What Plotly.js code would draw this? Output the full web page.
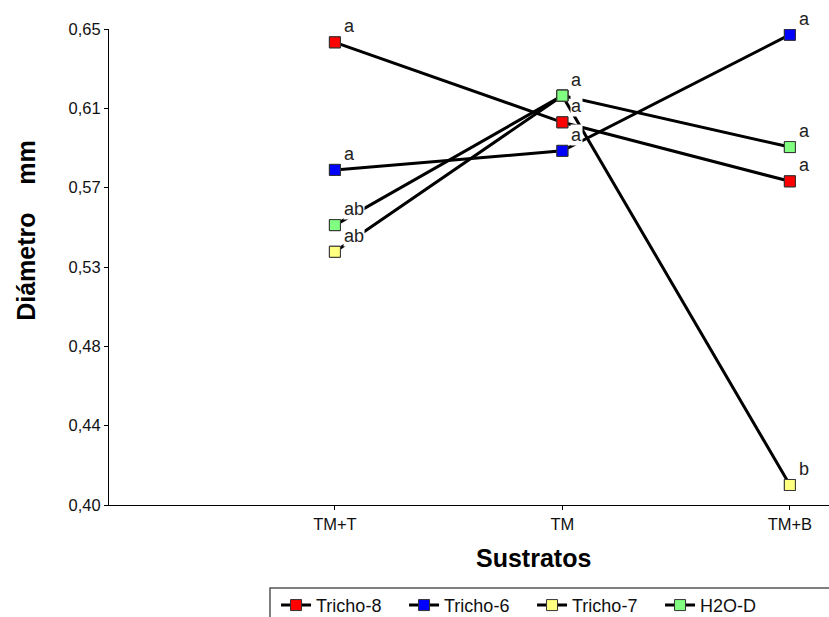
<!DOCTYPE html>
<html>
<head>
<meta charset="utf-8">
<script src="https://cdn.plot.ly/plotly-3.0.1.min.js"></script>
<style>html,body{margin:0;padding:0;background:#fff}#chart{width:829px;height:617px}</style>
</head>
<body>
<div id="chart"></div>
<script>
var categories = ["TM+T", "TM", "TM+B"];
var tricho8 = [0.643, 0.601, 0.570];
var tricho6 = [0.576, 0.586, 0.647];
var tricho7 = [0.533, 0.615, 0.4105];
var h2od = [0.547, 0.615, 0.588];
var letters8 = ["a", "a", "a"];
var letters6 = ["a", "a", "a"];
var letters7 = ["ab", "", "b"];
var lettersH = ["ab", "a", "a"];
var yTickVals = [0.40, 0.441667, 0.483333, 0.525, 0.566667, 0.608333, 0.65];
var yTickText = ["0,40", "0,44", "0,48", "0,53", "0,57", "0,61", "0,65"];

var series = [
  {name: "Tricho-8", y: tricho8, color: "#ff0000", letters: letters8},
  {name: "Tricho-6", y: tricho6, color: "#0000ff", letters: letters6},
  {name: "Tricho-7", y: tricho7, color: "#ffff80", letters: letters7},
  {name: "H2O-D", y: h2od, color: "#80ff80", letters: lettersH}
];

var font = "Liberation Sans, Arial, sans-serif";
var traces = [];
series.forEach(function (s) {
  traces.push({
    x: categories, y: s.y, name: s.name, type: "scatter", mode: "lines+markers",
    line: {color: "#000", width: 3},
    marker: {symbol: "square", size: 11, color: s.color, line: {color: "#333", width: 1}}
  });
});
series.forEach(function (s) {
  traces.push({
    x: categories, y: s.y, name: s.name, type: "scatter", mode: "markers", showlegend: false,
    marker: {symbol: "square", size: 11, color: s.color, line: {color: "#333", width: 1}},
    hoverinfo: "skip"
  });
});

var annotations = [];
series.forEach(function (s) {
  s.letters.forEach(function (t, i) {
    if (!t) return;
    annotations.push({
      x: categories[i], y: s.y[i], xref: "x", yref: "y", text: t, showarrow: false,
      xanchor: "left", yanchor: "middle", xshift: 8, yshift: 16,
      bgcolor: "rgba(255,255,255,1)", borderpad: 0,
      font: {family: font, size: 18, color: "#222"}
    });
  });
});
annotations.push({
  xref: "paper", yref: "paper", x: -0.1153, y: 0.578, textangle: -90,
  xanchor: "center", yanchor: "middle",
  text: "<b>Diámetro\u00A0\u00A0\u00A0\u00A0mm</b>", showarrow: false,
  font: {family: font, size: 25, color: "#000"}
});
annotations.push({
  xref: "paper", yref: "paper", x: 0.589, y: -0.111,
  xanchor: "center", yanchor: "middle",
  text: "<b>Sustratos</b>", showarrow: false,
  font: {family: font, size: 25, color: "#000"}
});

var layout = {
  width: 829, height: 617,
  margin: {l: 109, r: 0, t: 29, b: 112, autoexpand: false},
  paper_bgcolor: "#fff", plot_bgcolor: "#fff",
  showlegend: true,
  font: {family: font, size: 12, color: "#000"},
  xaxis: {
    type: "category", range: [-0.993, 2.172], showgrid: false, zeroline: false,
    showline: true, linecolor: "#000", linewidth: 1,
    ticks: "outside", ticklen: 4, tickcolor: "#000",
    tickfont: {family: font, size: 16.5, color: "#111"}
  },
  yaxis: {
    range: [0.40, 0.65], showgrid: false, zeroline: false,
    showline: true, linecolor: "#000", linewidth: 1,
    ticks: "outside", ticklen: 4, tickcolor: "#000",
    tickvals: yTickVals, ticktext: yTickText,
    tickfont: {family: font, size: 16.5, color: "#111"}
  },
  legend: {
    orientation: "h", x: 0.232, y: -0.172, xanchor: "left", yanchor: "top",
    borderwidth: 0, bgcolor: "rgba(0,0,0,0)",
    entrywidth: 83, entrywidthmode: "pixels",
    font: {family: font, size: 18, color: "#111"}
  },
  shapes: [{
    type: "rect", xref: "paper", yref: "paper",
    x0: 0.2236, x1: 1.05, y0: -0.1744, y1: -0.35,
    line: {color: "#555", width: 1.5}, fillcolor: "rgba(0,0,0,0)", layer: "below"
  }],
  annotations: annotations
};

Plotly.newPlot("chart", traces, layout, {displayModeBar: false, staticPlot: true});
</script>
</body>
</html>
